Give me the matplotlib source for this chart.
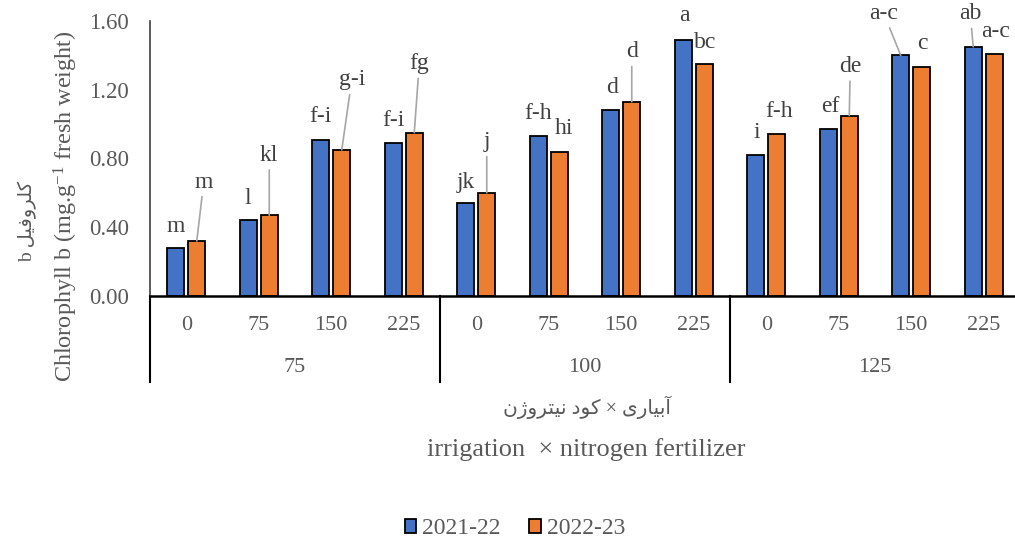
import matplotlib
matplotlib.use('Agg')
import matplotlib.pyplot as plt
import numpy as np

plt.rcParams['font.family'] = ['Liberation Serif', 'DejaVu Sans']
plt.rcParams['mathtext.fontset'] = 'custom'
plt.rcParams['mathtext.rm'] = 'Liberation Serif'
plt.rcParams['mathtext.it'] = 'Liberation Serif:italic'

# data
nitrogen = ['0', '75', '150', '225'] * 3
irrigation = ['75', '100', '125']
y2021 = [0.28, 0.44, 0.91, 0.89, 0.54, 0.93, 1.08, 1.49, 0.82, 0.97, 1.40, 1.45]
y2022 = [0.32, 0.47, 0.85, 0.95, 0.60, 0.84, 1.13, 1.35, 0.94, 1.05, 1.33, 1.41]
letters_2021 = ['m', 'l', 'f-i', 'f-i', 'jk', 'f-h', 'd', 'a', 'i', 'ef', 'a-c', 'ab']
letters_2022 = ['m', 'kl', 'g-i', 'fg', 'j', 'hi', 'd', 'bc', 'f-h', 'de', 'c', 'a-c']
seasons = ['2021-22', '2022-23']

# label placement (pixels from bar top) and whether a leader line is drawn
off_a = [(0, 21), (0, 22), (0, 23), (0, 23), (0, 21), (0, 23), (1, 23), (1, 24), (1, 23), (2, 23), (-17, 42), (-3, 33)]
lead_a = [False] * 10 + [True, True]
off_b = [(7, 59), (0, 60), (10, 70), (5, 69), (0, 51), (5, 23), (0, 50), (1, 21), (2, 23), (1, 49), (1, 24), (1, 22)]
lead_b = [True, True, True, True, True, False, True, False, False, True, False, False]

# minimal persian shaping (presentation forms) since matplotlib has no shaper
FORMS = {
    '\u0622': ('\uFE81', '\uFE82', None, None),
    '\u0627': ('\uFE8D', '\uFE8E', None, None),
    '\u0628': ('\uFE8F', '\uFE90', '\uFE91', '\uFE92'),
    '\u062A': ('\uFE95', '\uFE96', '\uFE97', '\uFE98'),
    '\u062F': ('\uFEA9', '\uFEAA', None, None),
    '\u0631': ('\uFEAD', '\uFEAE', None, None),
    '\u0698': ('\uFB8A', '\uFB8B', None, None),
    '\u0641': ('\uFED1', '\uFED2', '\uFED3', '\uFED4'),
    '\u0644': ('\uFEDD', '\uFEDE', '\uFEDF', '\uFEE0'),
    '\u0646': ('\uFEE5', '\uFEE6', '\uFEE7', '\uFEE8'),
    '\u0648': ('\uFEED', '\uFEEE', None, None),
    '\u06A9': ('\uFB8E', '\uFB8F', '\uFB90', '\uFB91'),
    '\u06CC': ('\uFBFC', '\uFBFD', '\uFBFE', '\uFBFF'),
}


def shape(word):
    out = []
    for i, ch in enumerate(word):
        if ch not in FORMS:
            out.append(ch)
            continue
        prev = word[i - 1] if i > 0 else None
        nxt = word[i + 1] if i + 1 < len(word) else None
        jp = prev in FORMS and FORMS[prev][2] is not None
        jn = nxt in FORMS and FORMS[ch][2] is not None
        if jp and jn:
            out.append(FORMS[ch][3])
        elif jp:
            out.append(FORMS[ch][1])
        elif jn:
            out.append(FORMS[ch][2])
        else:
            out.append(FORMS[ch][0])
    return ''.join(out[::-1])


def rtl(text):
    return ' '.join(shape(w) for w in text.split(' ')[::-1])


W, H = 1015, 539
fig = plt.figure(figsize=(W / 100, H / 100), dpi=100)
ax = fig.add_axes([150 / W, (H - 296) / H, 870 / W, 275 / H])

blue = '#4472C4'
orange = '#ED7D31'
grey = '#595959'
x = np.arange(len(y2021))
bw = 0.24
b1 = ax.bar(x - 0.145, y2021, bw, color=blue, edgecolor='black', linewidth=1.3, label=seasons[0])
b2 = ax.bar(x + 0.145, y2022, bw, color=orange, edgecolor='black', linewidth=1.3, label=seasons[1])

ax.set_xlim(-0.5, 11.5)
ax.set_ylim(0, 1.6)
ax.set_yticks(np.arange(0, 1.61, 0.4))
ax.set_yticklabels(['%.2f' % v for v in np.arange(0, 1.61, 0.4)])
ax.tick_params(axis='y', length=0, pad=15, labelsize=16.5, labelcolor=grey)
ax.set_xticks([])
for s in ['top', 'right']:
    ax.spines[s].set_visible(False)
ax.spines['left'].set_color('#404040')
ax.spines['left'].set_linewidth(1.2)
ax.spines['bottom'].set_color('black')
ax.spines['bottom'].set_linewidth(1.8)

tx = ax.get_xaxis_transform()
for xb in [-0.5, 3.5, 7.5, 11.5]:
    ax.plot([xb, xb], [0, -86 / 275], transform=tx, color='black', lw=1.5, clip_on=False)
for i, lab in enumerate(nitrogen):
    ax.annotate(lab, xy=(i, 0), xycoords=tx, xytext=(0, -29), textcoords='offset pixels',
                ha='center', va='center', fontsize=16, color=grey)
for g, lab in enumerate(irrigation):
    ax.annotate(lab, xy=(g * 4 + 1.5, 0), xycoords=tx, xytext=(0, -72), textcoords='offset pixels',
                ha='center', va='center', fontsize=16, color=grey)


def put_labels(xs, vals, letters, offs, leads):
    for xi, v, t, (dx, dy), ld in zip(xs, vals, letters, offs, leads):
        ap = dict(arrowstyle='-', color='#a6a6a6', lw=1.2, shrinkA=1, shrinkB=0) if ld else None
        ax.annotate(t, xy=(xi, v), xytext=(dx, dy), textcoords='offset pixels',
                    ha='center', va='center', fontsize=17, color='#404040', arrowprops=ap)


put_labels(x - 0.145, y2021, letters_2021, off_a, lead_a)
put_labels(x + 0.145, y2022, letters_2022, off_b, lead_b)

# axis titles
fig.text(28 / W, 1 - 221 / H, 'b ' + rtl('\u06A9\u0644\u0631\u0648\u0641\u06CC\u0644'),
         rotation=90, ha='center', va='center', fontsize=14, color=grey)
fig.text(66 / W, 1 - 206 / H, 'Chlorophyll b (mg.g$^{\\mathrm{-1}}$ fresh weight)',
         rotation=90, ha='center', va='center', fontsize=17.4, color=grey)
fig.text(587 / W, 1 - 407 / H,
         rtl('\u0622\u0628\u06CC\u0627\u0631\u06CC \u00D7 \u06A9\u0648\u062F \u0646\u06CC\u062A\u0631\u0648\u0698\u0646'),
         ha='center', va='center', fontsize=14.5, color=grey)
fig.text(586 / W, 1 - 450 / H, 'irrigation  \u00D7 nitrogen fertilizer',
         ha='center', va='center', fontsize=19, color=grey)

fig.legend(handles=[b1, b2], loc='center', bbox_to_anchor=(515 / W, 1 - 529 / H), ncol=2,
           frameon=False, fontsize=17, handlelength=0.5, handleheight=0.5,
           handletextpad=0.25, columnspacing=1.2, labelcolor=grey)

fig.savefig('out.png', dpi=100)
